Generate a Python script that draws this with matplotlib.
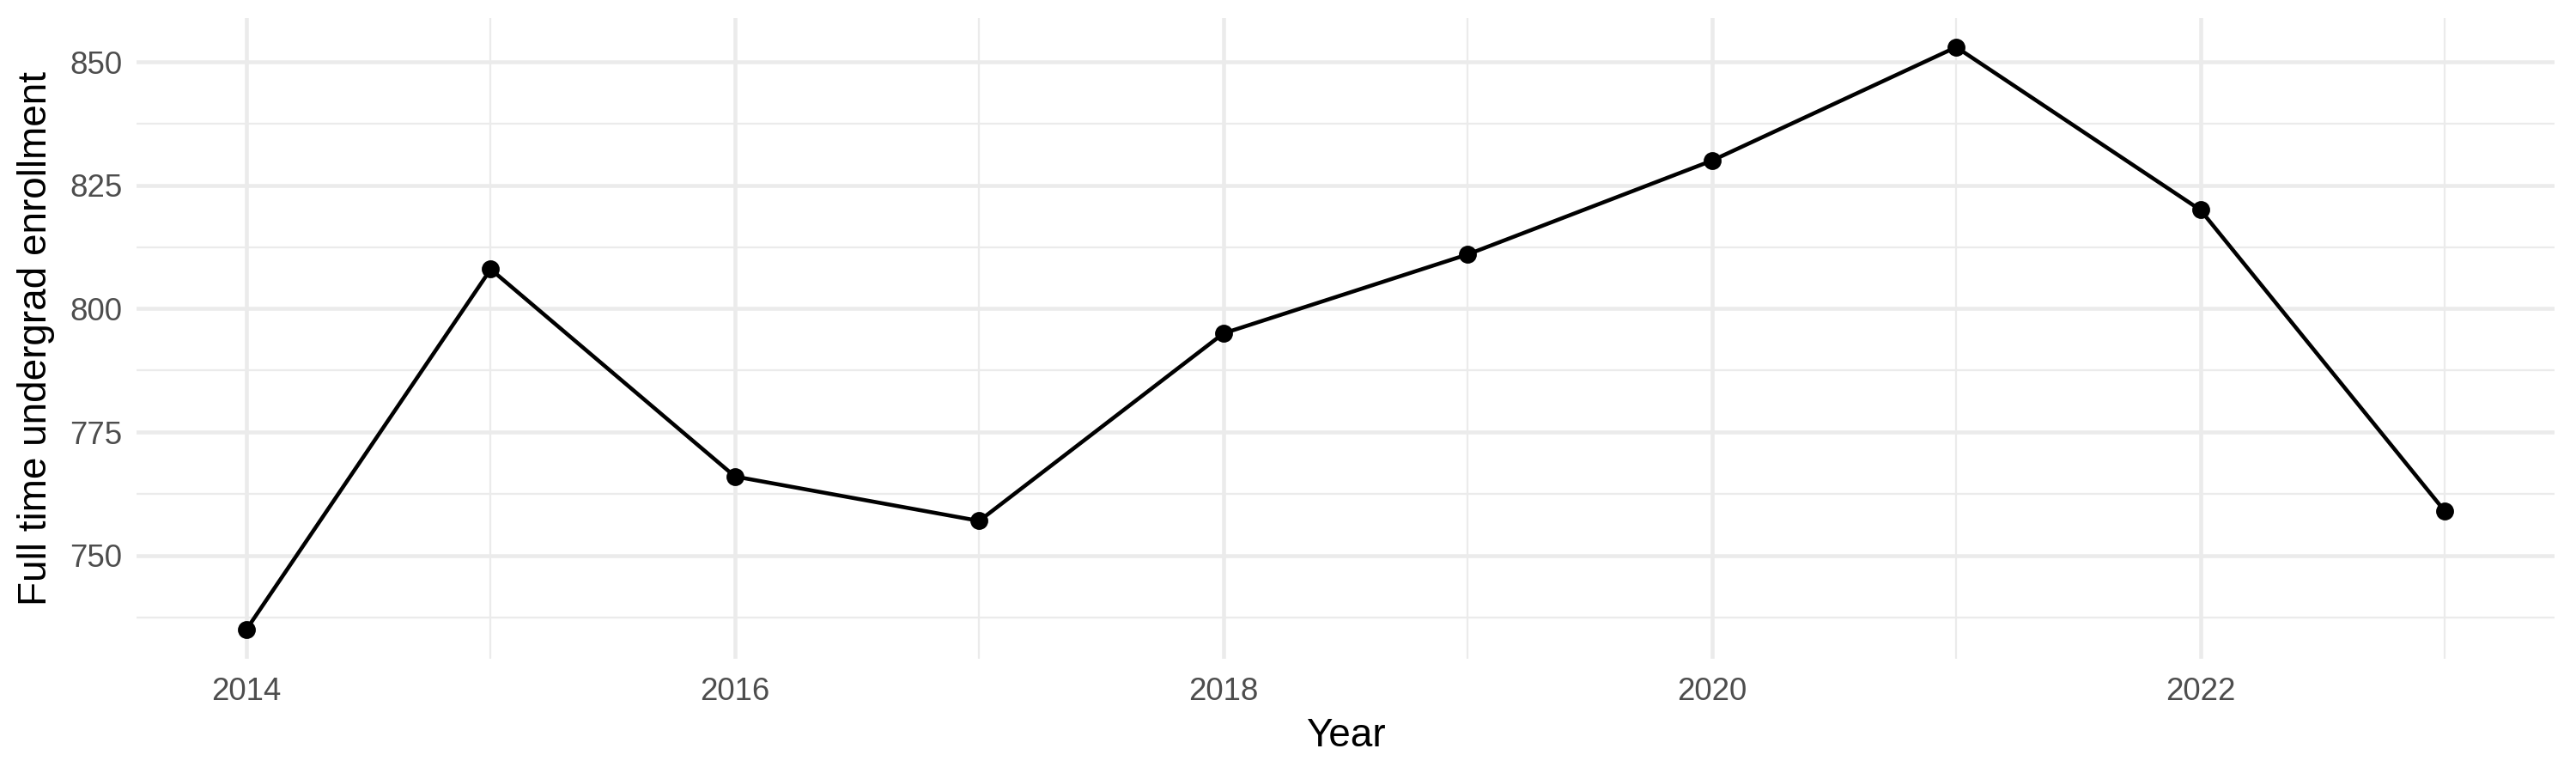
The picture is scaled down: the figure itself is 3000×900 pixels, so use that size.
import matplotlib.pyplot as plt
from matplotlib.ticker import MultipleLocator

years = [2014, 2015, 2016, 2017, 2018, 2019, 2020, 2021, 2022, 2023]
enrollment = [735, 808, 766, 757, 795, 811, 830, 853, 820, 759]

plt.rcParams['font.family'] = ['Liberation Sans', 'DejaVu Sans']

fig = plt.figure(figsize=(10, 3), dpi=300)
ax = fig.add_axes([0.053, 0.148, 0.9387, 0.8287])

ax.plot(years, enrollment, color='black', linewidth=1.1, zorder=3)
ax.scatter(years, enrollment, color='black', s=16, zorder=4)

# ggplot-style expansion of 5%
span_x = max(years) - min(years)
ax.set_xlim(min(years) - 0.05 * span_x, max(years) + 0.05 * span_x)
span_y = max(enrollment) - min(enrollment)
ax.set_ylim(min(enrollment) - 0.05 * span_y, max(enrollment) + 0.05 * span_y)

ax.xaxis.set_major_locator(MultipleLocator(2))
ax.xaxis.set_minor_locator(MultipleLocator(1))
ax.yaxis.set_major_locator(MultipleLocator(25))
ax.yaxis.set_minor_locator(MultipleLocator(12.5))

ax.grid(which='major', color='#EBEBEB', linewidth=1.1)
ax.grid(which='minor', color='#EBEBEB', linewidth=0.55)
ax.set_axisbelow(True)
for s in ax.spines.values():
    s.set_visible(False)
ax.tick_params(which='both', length=0)
ax.tick_params(labelsize=8.8, labelcolor='#4D4D4D')
ax.tick_params(axis='x', pad=5)
ax.tick_params(axis='y', pad=4)

ax.set_xlabel('Year', fontsize=11, labelpad=3)
ax.set_ylabel('Full time undergrad enrollment', fontsize=11, labelpad=4)

fig.savefig('out.png', dpi=300)
